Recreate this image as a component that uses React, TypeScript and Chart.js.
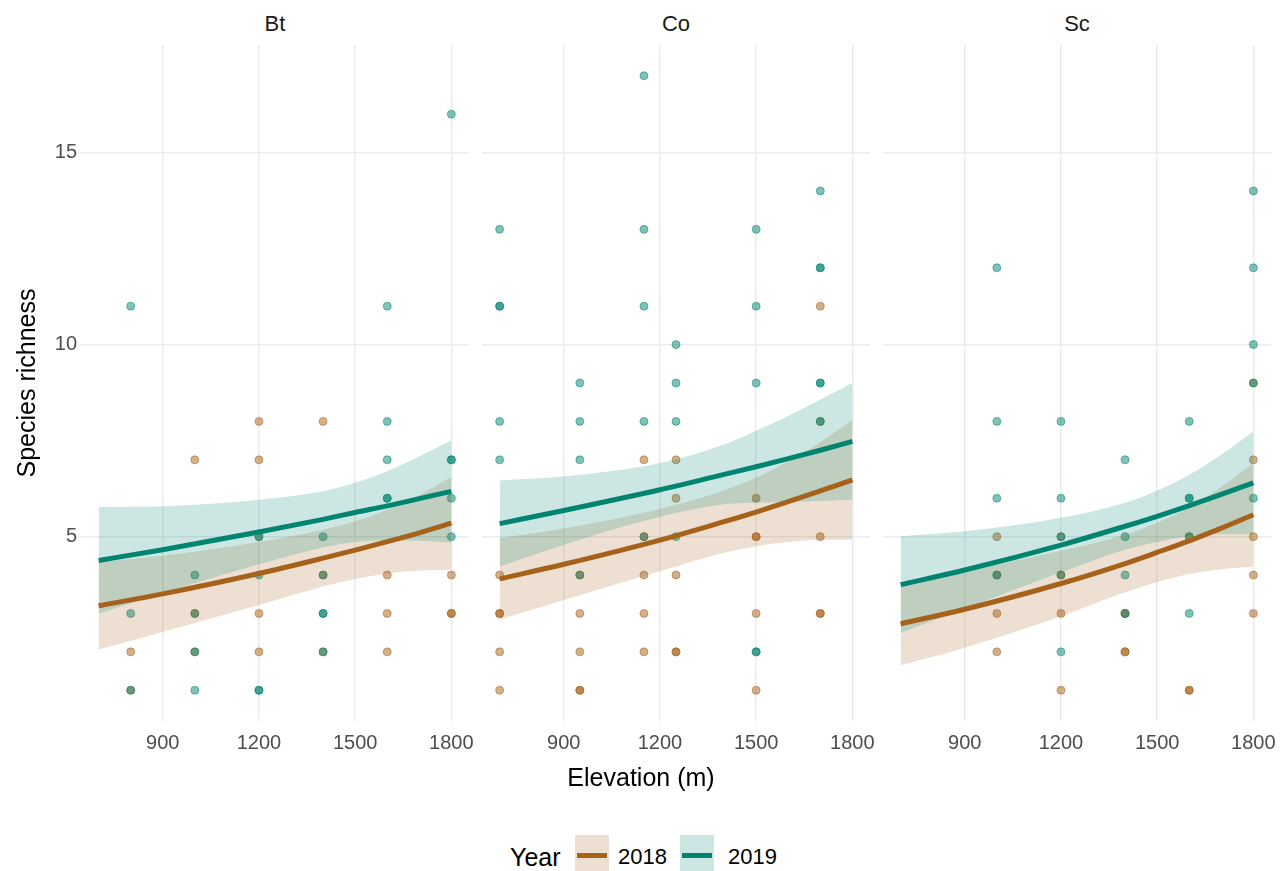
import React, { useEffect, useRef } from 'react';
import { Chart, registerables } from 'chart.js';

Chart.register(...registerables);

const FONT = '"Liberation Sans", Arial, Helvetica, sans-serif';

const panelNames = ['Bt', 'Co', 'Sc'];
const xTickValues = [900, 1200, 1500, 1800];
const yTickValues = [5, 10, 15];
const fitElev = [700, 900, 1200, 1400, 1500, 1600, 1700, 1800];

// ---------- Bt ----------
const btElev2018 = [800, 800, 1000, 1000, 1000, 1200, 1200, 1200, 1200, 1200, 1400, 1400, 1400, 1600, 1600, 1600, 1800, 1800, 1800];
const btRich2018 = [1, 2, 2, 3, 7, 2, 3, 5, 7, 8, 2, 4, 8, 2, 3, 4, 3, 3, 4];
const btElev2019 = [800, 800, 800, 1000, 1000, 1000, 1000, 1200, 1200, 1200, 1200, 1400, 1400, 1400, 1400, 1400, 1600, 1600, 1600, 1600, 1600, 1800, 1800, 1800, 1800, 1800];
const btRich2019 = [1, 3, 11, 1, 2, 3, 4, 1, 1, 4, 5, 2, 3, 3, 4, 5, 6, 6, 7, 8, 11, 5, 6, 7, 7, 16];
const btFit2018 = [3.2, 3.51, 4.04, 4.44, 4.65, 4.87, 5.1, 5.35];
const btLo2018 = [2.06, 2.52, 3.22, 3.7, 3.9, 4.04, 4.12, 4.14];
const btHi2018 = [4.34, 4.5, 4.86, 5.18, 5.4, 5.7, 6.08, 6.56];
const btFit2019 = [4.38, 4.66, 5.12, 5.45, 5.63, 5.8, 5.99, 6.18];
const btLo2019 = [2.99, 3.53, 4.28, 4.72, 4.86, 4.9, 4.89, 4.85];
const btHi2019 = [5.77, 5.79, 5.96, 6.18, 6.4, 6.7, 7.09, 7.51];

// ---------- Co ----------
const coElev2018 = [700, 700, 700, 700, 700, 950, 950, 950, 950, 950, 1150, 1150, 1150, 1150, 1150, 1250, 1250, 1250, 1250, 1250, 1500, 1500, 1500, 1500, 1500, 1700, 1700, 1700, 1700, 1700];
const coRich2018 = [4, 3, 3, 2, 1, 4, 3, 2, 1, 1, 7, 5, 4, 3, 2, 7, 6, 4, 2, 2, 6, 5, 5, 3, 1, 11, 8, 5, 3, 3];
const coElev2019 = [700, 700, 700, 700, 700, 950, 950, 950, 950, 1150, 1150, 1150, 1150, 1150, 1250, 1250, 1250, 1250, 1500, 1500, 1500, 1500, 1500, 1700, 1700, 1700, 1700, 1700, 1700];
const coRich2019 = [13, 11, 11, 8, 7, 9, 8, 7, 4, 17, 13, 11, 8, 5, 10, 9, 8, 5, 13, 11, 9, 2, 2, 14, 12, 12, 9, 9, 8];
const coFit2018 = [3.9, 4.28, 4.91, 5.39, 5.64, 5.91, 6.19, 6.48];
const coLo2018 = [2.84, 3.35, 4.1, 4.58, 4.75, 4.86, 4.92, 4.92];
const coHi2018 = [4.96, 5.21, 5.72, 6.2, 6.53, 6.96, 7.46, 8.04];
const coFit2019 = [5.34, 5.68, 6.22, 6.62, 6.82, 7.03, 7.25, 7.48];
const coLo2019 = [4.22, 4.79, 5.52, 5.84, 5.88, 5.91, 5.93, 5.96];
const coHi2019 = [6.46, 6.57, 6.92, 7.4, 7.76, 8.15, 8.57, 9.0];

// ---------- Sc ----------
const scElev2018 = [1000, 1000, 1000, 1000, 1200, 1200, 1200, 1200, 1400, 1400, 1400, 1400, 1600, 1600, 1600, 1800, 1800, 1800, 1800, 1800];
const scRich2018 = [5, 4, 3, 2, 5, 4, 3, 1, 3, 3, 2, 2, 5, 1, 1, 9, 7, 5, 4, 3];
const scElev2019 = [1000, 1000, 1000, 1000, 1200, 1200, 1200, 1200, 1200, 1400, 1400, 1400, 1400, 1600, 1600, 1600, 1600, 1600, 1800, 1800, 1800, 1800, 1800];
const scRich2019 = [12, 8, 6, 4, 8, 6, 5, 4, 2, 7, 5, 4, 3, 8, 6, 6, 5, 3, 14, 12, 10, 9, 6];
const scFit2018 = [2.73, 3.11, 3.78, 4.3, 4.59, 4.89, 5.22, 5.57];
const scLo2018 = [1.65, 2.11, 2.93, 3.55, 3.82, 4.03, 4.15, 4.22];
const scHi2018 = [3.81, 4.11, 4.63, 5.05, 5.36, 5.75, 6.29, 6.92];
const scFit2019 = [3.75, 4.13, 4.78, 5.27, 5.53, 5.81, 6.1, 6.4];
const scLo2019 = [2.49, 3.12, 4.07, 4.66, 4.86, 5.01, 5.06, 5.06];
const scHi2019 = [5.01, 5.14, 5.49, 5.88, 6.2, 6.61, 7.14, 7.74];

const panelData = [
  { e18: btElev2018, r18: btRich2018, e19: btElev2019, r19: btRich2019, f18: btFit2018, lo18: btLo2018, hi18: btHi2018, f19: btFit2019, lo19: btLo2019, hi19: btHi2019 },
  { e18: coElev2018, r18: coRich2018, e19: coElev2019, r19: coRich2019, f18: coFit2018, lo18: coLo2018, hi18: coHi2018, f19: coFit2019, lo19: coLo2019, hi19: coHi2019 },
  { e18: scElev2018, r18: scRich2018, e19: scElev2019, r19: scRich2019, f18: scFit2018, lo18: scLo2018, hi18: scHi2018, f19: scFit2019, lo19: scLo2019, hi19: scHi2019 },
];

const C18 = '#A6611A';
const C19 = '#018571';
const P18 = 'rgba(166,97,26,0.5)';
const P19 = 'rgba(1,133,113,0.5)';
const B18 = 'rgba(166,97,26,0.2)';
const B19 = 'rgba(1,133,113,0.2)';

const PANEL_LEFT = [81, 482, 883];
const PANEL_W = 388;
const PANEL_TOP = 45;
const PANEL_H = 676;
const PAD_TOP = 20;
const PAD_RIGHT = 30;
const XAXIS_H = 50;
const Y_AXIS_W = 81;

const pts = (xs: number[], ys: number[]) => xs.map((x, i) => ({ x, y: ys[i] }));

function makeConfig(idx: number): any {
  const d = panelData[idx];
  const first = idx === 0;
  const curve = (ys: number[]) => pts(fitElev, ys);
  const pointDs = (data: any[], col: string, order: number) => ({
    data,
    showLine: false,
    pointRadius: 4,
    pointHoverRadius: 4,
    pointBackgroundColor: col,
    pointBorderColor: col,
    pointBorderWidth: 1,
    order,
  });
  const bandDs = (data: any[], col: string, order: number, fill: any) => ({
    data,
    showLine: true,
    borderWidth: 0,
    borderColor: 'rgba(0,0,0,0)',
    backgroundColor: col,
    pointRadius: 0,
    cubicInterpolationMode: 'monotone',
    fill,
    order,
  });
  const lineDs = (data: any[], col: string, order: number) => ({
    data,
    showLine: true,
    borderWidth: 5,
    borderColor: col,
    pointRadius: 0,
    cubicInterpolationMode: 'monotone',
    fill: false,
    borderCapStyle: 'butt',
    order,
  });
  return {
    type: 'line',
    data: {
      datasets: [
        pointDs(pts(d.e18, d.r18), P18, 8),
        pointDs(pts(d.e19, d.r19), P19, 7),
        bandDs(curve(d.hi18), B18, 6, 3),
        bandDs(curve(d.lo18), 'rgba(0,0,0,0)', 5, false),
        bandDs(curve(d.hi19), B19, 4, 5),
        bandDs(curve(d.lo19), 'rgba(0,0,0,0)', 3, false),
        lineDs(curve(d.f18), C18, 2),
        lineDs(curve(d.f19), C19, 1),
      ],
    },
    options: {
      animation: false,
      responsive: false,
      maintainAspectRatio: false,
      events: [],
      layout: { padding: { top: PAD_TOP, right: PAD_RIGHT, bottom: 0, left: first ? 0 : 10 } },
      plugins: { legend: { display: false }, tooltip: { enabled: false }, title: { display: false } },
      scales: {
        x: {
          type: 'linear',
          min: 645,
          max: 1855,
          afterBuildTicks: (scale: any) => {
            scale.ticks = xTickValues.map((v) => ({ value: v }));
          },
          afterFit: (scale: any) => {
            scale.height = XAXIS_H;
          },
          grid: { color: '#EBEBEB', lineWidth: 1.5, drawTicks: false },
          border: { display: false },
          ticks: {
            color: '#4D4D4D',
            font: { family: FONT, size: 20 },
            padding: 10,
            maxRotation: 0,
            autoSkip: false,
            callback: (v: any) => String(v),
          },
        },
        y: {
          type: 'linear',
          min: 0.2,
          max: 17.8,
          afterBuildTicks: (scale: any) => {
            scale.ticks = yTickValues.map((v) => ({ value: v }));
          },
          afterFit: (scale: any) => {
            scale.width = first ? Y_AXIS_W : 0;
          },
          grid: { color: '#EBEBEB', lineWidth: 1.5, drawTicks: false },
          border: { display: false },
          ticks: {
            display: first,
            color: '#4D4D4D',
            font: { family: FONT, size: 20 },
            padding: 4,
            autoSkip: false,
            callback: (v: any) => String(v),
          },
        },
      },
    },
  };
}

function Panel({ idx }: { idx: number }) {
  const ref = useRef<HTMLCanvasElement | null>(null);
  useEffect(() => {
    if (!ref.current) return;
    const chart = new Chart(ref.current, makeConfig(idx));
    return () => chart.destroy();
  }, [idx]);
  const first = idx === 0;
  const padL = first ? Y_AXIS_W : 10;
  const left = PANEL_LEFT[idx] - padL;
  const width = padL + PANEL_W + PAD_RIGHT;
  const height = PAD_TOP + PANEL_H + XAXIS_H;
  return (
    <canvas
      ref={ref}
      width={width}
      height={height}
      style={{ position: 'absolute', left, top: PANEL_TOP - PAD_TOP, width, height }}
    />
  );
}

export default function App() {
  const text: React.CSSProperties = { position: 'absolute', fontFamily: FONT, whiteSpace: 'nowrap' };
  return (
    <div style={{ position: 'absolute', left: 0, top: 0, width: 1288, height: 871, background: '#ffffff', overflow: 'hidden' }}>
      {panelNames.map((name, i) => (
        <div
          key={name}
          style={{ ...text, left: PANEL_LEFT[i], width: PANEL_W, top: 10, lineHeight: '28px', fontSize: 22, color: '#1A1A1A', textAlign: 'center' }}
        >
          {name}
        </div>
      ))}
      {[0, 1, 2].map((i) => (
        <Panel key={i} idx={i} />
      ))}
      <div
        style={{
          ...text,
          left: 26 - 150,
          top: PANEL_TOP + PANEL_H / 2 - 15,
          width: 300,
          lineHeight: '30px',
          fontSize: 25,
          color: '#000',
          textAlign: 'center',
          transform: 'rotate(-90deg)',
        }}
      >
        Species richness
      </div>
      <div style={{ ...text, left: 641 - 150, width: 300, top: 762, lineHeight: '30px', fontSize: 25, color: '#000', textAlign: 'center' }}>
        Elevation (m)
      </div>
      <div style={{ ...text, left: 510, top: 842, lineHeight: '30px', fontSize: 25, color: '#000' }}>Year</div>
      <div style={{ position: 'absolute', left: 575, top: 835, width: 34, height: 40, background: 'rgba(166,97,26,0.2)' }}>
        <div style={{ position: 'absolute', left: 2, top: 18, width: 30, height: 5, background: C18 }} />
      </div>
      <div style={{ ...text, left: 618, top: 844, lineHeight: '26px', fontSize: 22, color: '#000' }}>2018</div>
      <div style={{ position: 'absolute', left: 680, top: 835, width: 34, height: 40, background: 'rgba(1,133,113,0.2)' }}>
        <div style={{ position: 'absolute', left: 2, top: 18, width: 30, height: 5, background: C19 }} />
      </div>
      <div style={{ ...text, left: 728, top: 844, lineHeight: '26px', fontSize: 22, color: '#000' }}>2019</div>
    </div>
  );
}
